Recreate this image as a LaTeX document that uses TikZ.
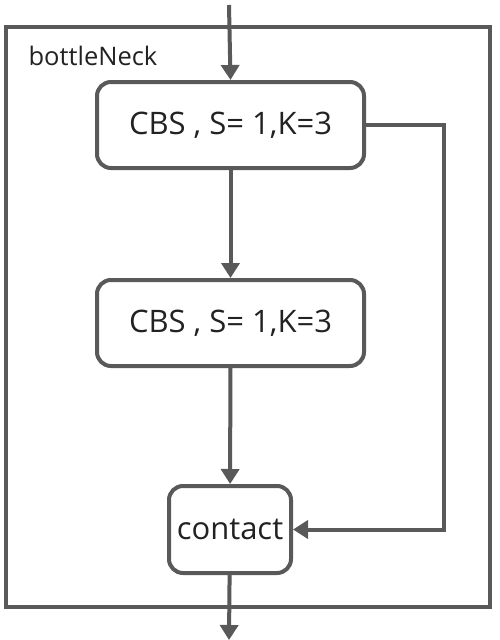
\documentclass[tikz,border=0pt]{standalone}
\usepackage{fontspec}
\setmainfont{Open Sans}
\usetikzlibrary{arrows.meta}
\definecolor{ln}{HTML}{595959}
\definecolor{tx}{HTML}{222222}
\begin{document}
\begin{tikzpicture}[x=1pt,y=-1pt,
  blk/.style={draw=ln,line width=4pt,rounded corners=14pt,fill=white,text=tx,inner sep=0pt},
  arr/.style={draw=ln,line width=4pt,-{Triangle[length=15pt,width=18pt]}},
  frame/.style={draw=ln,line width=3.5pt}]
\useasboundingbox (0,0) rectangle (500,640);
\fill[white] (0,0) rectangle (500,640);
\draw[frame] (6,27) rectangle (490,607);
\node[text=tx,anchor=base west,font=\fontsize{25.5}{28}\selectfont] (lbl) at (25,65) {bottleNeck};
\node[blk,minimum width=267pt,minimum height=86pt,font=\fontsize{31}{34}\selectfont] (b1) at (230.5,125) {CBS , S= 1,K=3};
\node[blk,minimum width=267pt,minimum height=86pt,font=\fontsize{31}{34}\selectfont] (b2) at (230.5,323) {CBS , S= 1,K=3};
\node[blk,minimum width=122pt,minimum height=87pt,font=\fontsize{31}{34}\selectfont] (c) at (230,529.5) {contact};
\coordinate (in) at (229,5);
\coordinate (out) at (229,640);
\coordinate (r1) at (444,125);
\coordinate (r2) at (444,529.5);
\draw[arr] (in) -- (b1.north);
\draw[arr] (b1) -- (b2);
\draw[arr] (b2) -- (c);
\draw[arr] (c) -- (out);
\draw[arr] (b1.east) -- (r1) -- (r2) -- (c.east);
\end{tikzpicture}
\end{document}
